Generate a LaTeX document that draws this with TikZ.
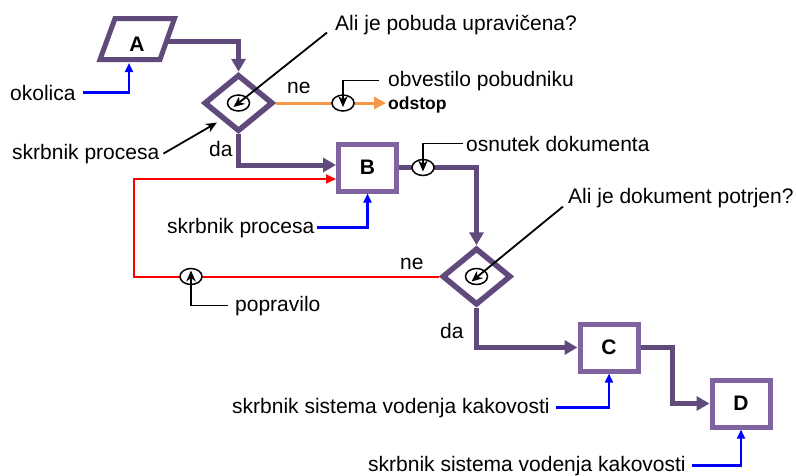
\documentclass[tikz,border=0pt]{standalone}
\usepackage{fontspec}
\setmainfont{Liberation Sans}
\usetikzlibrary{shapes.geometric,arrows.meta}
\definecolor{pline}{RGB}{96,74,123}
\definecolor{pbox}{RGB}{128,100,162}
\definecolor{blu}{RGB}{0,0,255}
\definecolor{orng}{RGB}{247,150,70}
\definecolor{rd}{RGB}{255,0,0}
\begin{document}
\begin{tikzpicture}[x=1pt,y=-1pt,
  font=\fontsize{21}{25}\selectfont,
  lbl/.style={inner sep=0pt, anchor=base west},
  procbox/.style={draw=pbox, line width=5pt, minimum width=58pt, minimum height=47pt, inner sep=0pt, fill=white, font=\fontsize{21}{24}\selectfont\bfseries},
  dec/.style={diamond, draw=pline, line width=5.5pt, minimum width=69pt, minimum height=57pt, inner sep=0pt, fill=white},
  flow/.style={draw=pline, line width=5pt, -{Triangle[length=13pt,width=14pt]}},
  bflow/.style={draw=blu, line width=2.2pt, -{Triangle[length=9pt,width=8pt]}},
  rflow/.style={draw=rd, line width=2pt, -{Triangle[length=10pt,width=9pt]}},
  oflow/.style={draw=orng, line width=3pt, -{Triangle[length=12pt,width=12pt]}},
  pointer/.style={draw=black, line width=1.8pt, -{Stealth[length=11pt,width=9.5pt]}},
  evt/.style={ellipse, draw=black, line width=1.5pt, fill=white, minimum width=22pt, minimum height=16pt, inner sep=0pt},
]
\useasboundingbox (0,0) rectangle (796,475);

% A parallelogram
\draw[draw=pline, line width=5pt, fill=white] (115,18.5) -- (174.5,18.5) -- (160,59.5) -- (100,59.5) -- cycle;
\node[inner sep=0pt, font=\fontsize{21}{24}\selectfont\bfseries] (A) at (137,44) {A};
\coordinate (Ar) at (168,41);
\coordinate (Ab) at (129,63);

% decisions and processes
\node[dec] (D1) at (238.5,103) {};
\node[dec] (D2) at (476.5,276.5) {};
\node[procbox] (B) at (367.5,167.5) {B};
\node[procbox] (C) at (609,347.5) {C};
\node[procbox] (D) at (741,403.5) {D};

% labels
\node[lbl] (okol) at (10,100) {okolica};
\node[lbl] (sp1) at (12,159) {skrbnik procesa};
\node[lbl] (q1) at (335,30) {Ali je pobuda upravičena?};
\node[lbl] (ne1) at (287,93) {ne};
\node[lbl] (da1) at (209,156) {da};
\node[lbl] (obv) at (388,86) {obvestilo pobudniku};
\node[lbl, font=\fontsize{17.5}{20}\selectfont\bfseries] (odst) at (388,109) {odstop};
\node[lbl] (osn) at (466,151) {osnutek dokumenta};
\node[lbl] (sp2) at (167,233) {skrbnik procesa};
\node[lbl] (ne2) at (400,269) {ne};
\node[lbl] (pop) at (235,311) {popravilo};
\node[lbl] (q2) at (568,203) {Ali je dokument potrjen?};
\node[lbl] (da2) at (440,338) {da};
\node[lbl] (sv1) at (232,413) {skrbnik sistema vodenja kakovosti};
\node[lbl] (sv2) at (368,471) {skrbnik sistema vodenja kakovosti};

\coordinate (rc) at (134,179);

% main flow
\draw[flow] (Ar) -| (D1.north);
\draw[flow] (D1.south) |- ([yshift=2.5pt]B.west);
\draw[flow] (B.east) -| (D2.north);
\draw[flow] (D2.south) |- (C.west);
\draw[flow] (C.east) -- ++(32,0) |- (D.west);

% no branch 1
\draw[oflow] (D1.east) -- ([xshift=-2pt]odst.west |- D1.east);
% correction loop
\draw[rflow] (D2.west) -- (D2.west -| rc) |- ([yshift=-11.5pt]B.west);

% resources
\draw[bflow] ([xshift=7pt]okol.east) -| (Ab);
\draw[bflow] ([xshift=3pt]sp2.east) -| (B.south);
\draw[bflow] ([xshift=6pt]sv1.east) -| (C.south);
\draw[bflow] ([xshift=6pt]sv2.east) -| (D.south);

% event markers
\node[evt] (E1) at (D1.center) {};
\node[evt] (E2) at (343,103) {};
\node[evt] (E3) at (423,167.5) {};
\node[evt] (E4) at (191,276.5) {};
\node[evt] (E5) at (D2.center) {};

% pointers
\draw[pointer] ([xshift=-8pt,yshift=2pt]q1.south west) -- ([xshift=-5pt,yshift=-4pt]E1.center);
\draw[pointer] ([xshift=4pt]sp1.east) -- ([xshift=-3pt,yshift=-4pt]D1.south west);
\draw[pointer] ([xshift=-9pt]obv.west) -| ([yshift=-4pt]E2.center);
\draw[pointer] ([xshift=-3pt]osn.west) -| ([yshift=-4pt]E3.center);
\draw[pointer] ([xshift=-7pt]pop.west) -| ([yshift=6pt]E4.center);
\draw[pointer] ([xshift=-5pt,yshift=1pt]q2.south west) -- ([xshift=-5pt,yshift=-5pt]E5.center);
\end{tikzpicture}
\end{document}
